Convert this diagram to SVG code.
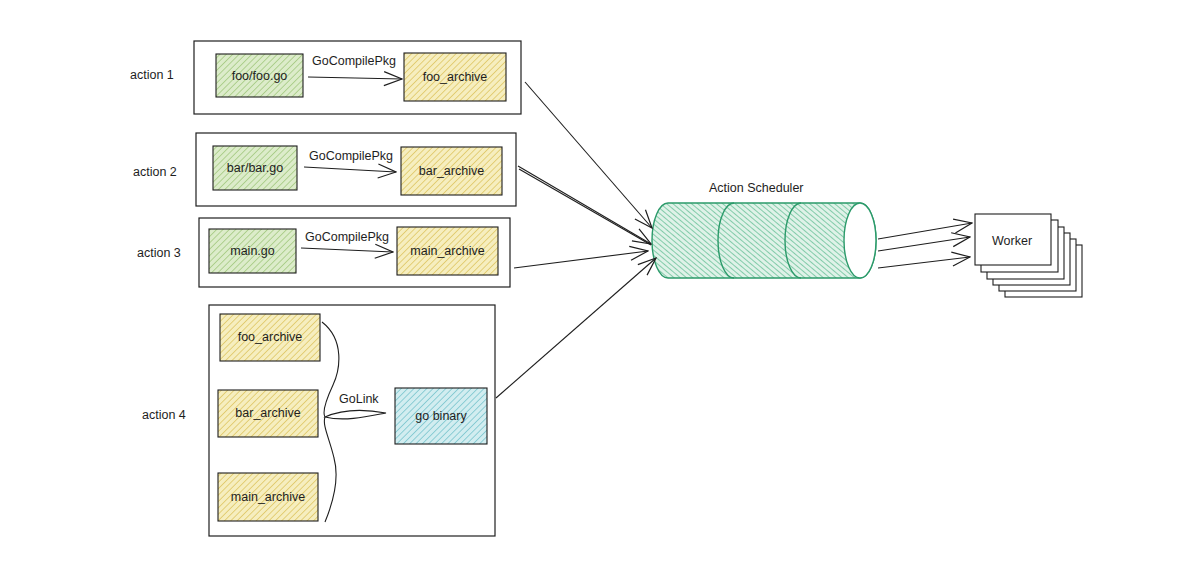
<svg xmlns="http://www.w3.org/2000/svg" width="1200" height="568" viewBox="0 0 1200 568">
<defs>
<pattern id="hG" width="4.5" height="4.5" patternUnits="userSpaceOnUse" patternTransform="rotate(45)"><rect width="4.5" height="4.5" fill="#dcecca"/><line x1="0" y1="0" x2="0" y2="4.5" stroke="#9cc476" stroke-width="1.4"/></pattern>
<pattern id="hY" width="4.5" height="4.5" patternUnits="userSpaceOnUse" patternTransform="rotate(45)"><rect width="4.5" height="4.5" fill="#f6eebf"/><line x1="0" y1="0" x2="0" y2="4.5" stroke="#dbc158" stroke-width="1.4"/></pattern>
<pattern id="hB" width="4.5" height="4.5" patternUnits="userSpaceOnUse" patternTransform="rotate(45)"><rect width="4.5" height="4.5" fill="#d2edf0"/><line x1="0" y1="0" x2="0" y2="4.5" stroke="#6fc0ca" stroke-width="1.4"/></pattern>
<pattern id="hC" width="4" height="4" patternUnits="userSpaceOnUse" patternTransform="rotate(-50)"><rect width="4" height="4" fill="#dff2e8"/><line x1="0" y1="0" x2="0" y2="4" stroke="#6cc29a" stroke-width="1.6"/></pattern>
<marker id="ah" viewBox="0 0 20 20" refX="19" refY="10" markerWidth="20" markerHeight="20" markerUnits="userSpaceOnUse" orient="auto"><path d="M1,3 L19,10 L1,17" fill="none" stroke="#1e1e1e" stroke-width="1.2"/></marker>
</defs>
<style>
text{font-family:"Liberation Sans",Arial,sans-serif;font-size:12.5px;fill:#1e1e1e}
.frame{fill:#fff;stroke:#1e1e1e;stroke-width:1.2}
.g{fill:url(#hG);stroke:#1e1e1e;stroke-width:1.1}
.y{fill:url(#hY);stroke:#1e1e1e;stroke-width:1.1}
.b{fill:url(#hB);stroke:#1e1e1e;stroke-width:1.1}
.c{stroke:#1e1e1e;stroke-width:1.1;fill:none}
.cyl{fill:url(#hC);stroke:#2b9a6a;stroke-width:1.4}
.w{fill:#fff;stroke:#1e1e1e;stroke-width:1.1}
</style>
<rect width="1200" height="568" fill="#fff"/>

<g id="action1">
<text x="130" y="79">action 1</text>
<rect class="frame" x="194" y="41" width="327" height="73"/>
<g id="foo_go"><rect class="g" x="216" y="54" width="87" height="43"/><text x="259.5" y="80" text-anchor="middle">foo/foo.go</text></g>
<g id="foo_archive1"><rect class="y" x="404" y="53" width="102" height="48"/><text x="455" y="81" text-anchor="middle">foo_archive</text></g>
</g>

<g id="action2">
<text x="133" y="176">action 2</text>
<rect class="frame" x="196" y="133" width="320" height="73"/>
<g id="bar_go"><rect class="g" x="213" y="146" width="84" height="44"/><text x="255" y="172" text-anchor="middle">bar/bar.go</text></g>
<g id="bar_archive1"><rect class="y" x="401" y="147" width="101" height="48"/><text x="451.5" y="175" text-anchor="middle">bar_archive</text></g>
</g>

<g id="action3">
<text x="137" y="257">action 3</text>
<rect class="frame" x="199" y="218" width="311" height="69"/>
<g id="main_go"><rect class="g" x="209" y="229" width="87" height="44"/><text x="252.5" y="255" text-anchor="middle">main.go</text></g>
<g id="main_archive1"><rect class="y" x="397" y="227" width="101" height="48"/><text x="447.5" y="255" text-anchor="middle">main_archive</text></g>
</g>

<g id="action4">
<text x="142" y="419">action 4</text>
<rect class="frame" x="209" y="305" width="286" height="231"/>
<g id="foo_archive2"><rect class="y" x="220" y="314" width="100" height="47"/><text x="270" y="341" text-anchor="middle">foo_archive</text></g>
<g id="bar_archive2"><rect class="y" x="218" y="390" width="100" height="47"/><text x="268" y="417" text-anchor="middle">bar_archive</text></g>
<g id="main_archive2"><rect class="y" x="218" y="473" width="100" height="48"/><text x="268" y="501" text-anchor="middle">main_archive</text></g>
<g id="go_binary"><rect class="b" x="395" y="388" width="92" height="56"/><text x="441" y="420" text-anchor="middle">go binary</text></g>
<text x="339" y="403">GoLink</text>
</g>

<g id="scheduler">
<path class="cyl" d="M668,203 L860,203 A16,37.5 0 0 1 860,278 L668,278 A16,37.5 0 0 1 668,203 Z"/>
<path d="M734,203 A16,37.5 0 0 0 734,278 M801,203 A16,37.5 0 0 0 801,278" fill="none" stroke="#2b9a6a" stroke-width="1.4"/>
<ellipse cx="860" cy="240.5" rx="16" ry="37.5" fill="#fff" stroke="#2b9a6a" stroke-width="1.4"/>
<text x="709" y="192">Action Scheduler</text>
</g>

<g id="worker">
<rect class="w" x="1005" y="245" width="77" height="52"/>
<rect class="w" x="999" y="239" width="77" height="52"/>
<rect class="w" x="993" y="233" width="77" height="52"/>
<rect class="w" x="987" y="227" width="77" height="52"/>
<rect class="w" x="981" y="220" width="77" height="52"/>
<rect class="w" x="975" y="214" width="76" height="51"/>
<text x="992" y="245">Worker</text>
</g>

<g id="connectors">
<line class="c" x1="308" y1="77" x2="402" y2="79" marker-end="url(#ah)"/>
<text x="312" y="65">GoCompilePkg</text>
<line class="c" x1="304" y1="167" x2="396" y2="172" marker-end="url(#ah)"/>
<text x="309" y="160">GoCompilePkg</text>
<line class="c" x1="301" y1="248" x2="393" y2="252" marker-end="url(#ah)"/>
<text x="305" y="241">GoCompilePkg</text>
<path class="c" d="M322,322 C345,340 340,370 333,385 C326,400 322,412 325,417 C322,425 330,440 334,458 C340,480 332,505 325,522"/>
<path class="c" d="M325,417 C345,408 370,410 386,413 C370,416 345,422 325,417 Z"/>
<line class="c" x1="525" y1="82" x2="652" y2="228" marker-end="url(#ah)"/>
<line class="c" x1="518" y1="166" x2="651" y2="244" marker-end="url(#ah)"/>
<line class="c" x1="519" y1="169" x2="651" y2="245"/>
<line class="c" x1="514" y1="268" x2="648" y2="251" marker-end="url(#ah)"/>
<line class="c" x1="496" y1="398" x2="656" y2="258" marker-end="url(#ah)"/>
<line class="c" x1="878" y1="239" x2="972" y2="223" marker-end="url(#ah)"/>
<line class="c" x1="878" y1="251" x2="970" y2="237" marker-end="url(#ah)"/>
<line class="c" x1="878" y1="268" x2="970" y2="257" marker-end="url(#ah)"/>
</g>
</svg>
